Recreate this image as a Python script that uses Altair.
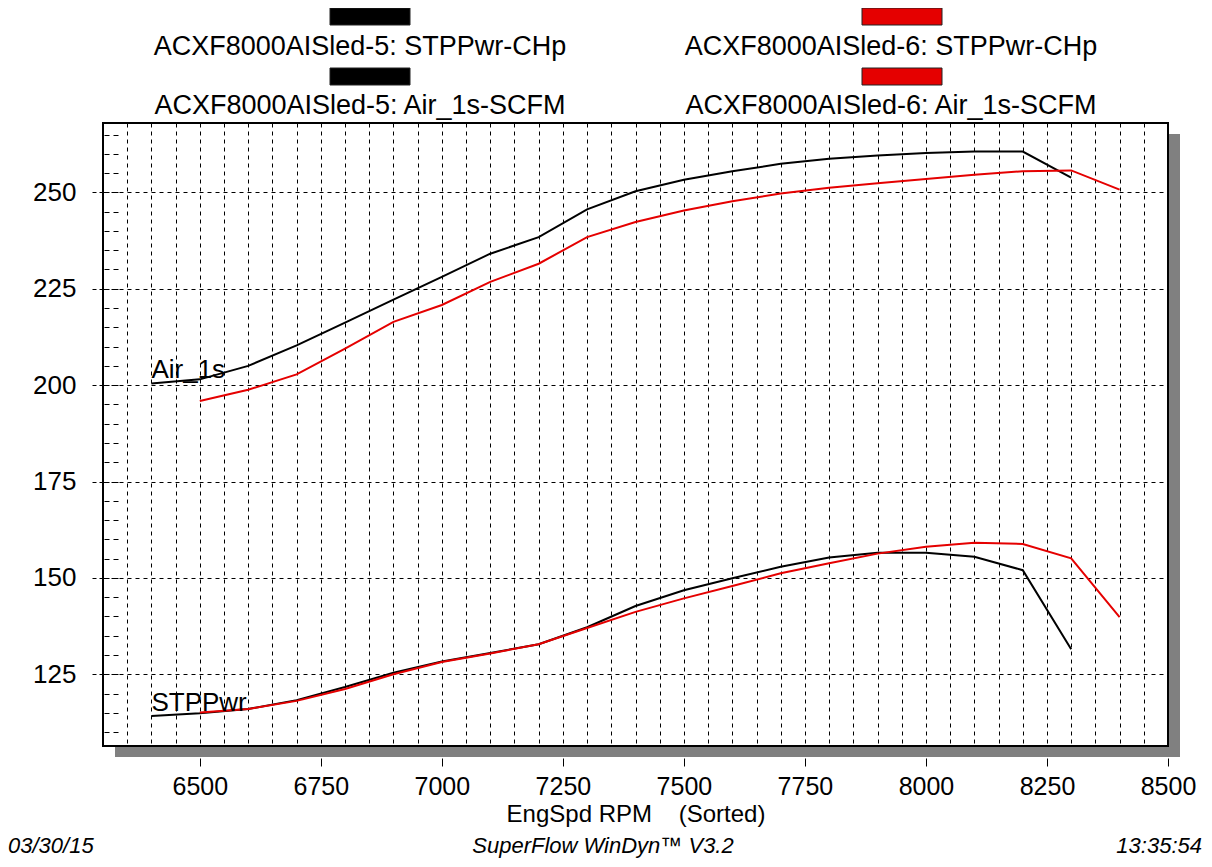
import altair as alt
import pandas as pd

# ---------------- data ----------------
rpm_sled5 = [6400, 6500, 6600, 6700, 6800, 6900, 7000, 7100, 7200, 7300,
             7400, 7500, 7600, 7700, 7800, 7900, 8000, 8100, 8200, 8300]
rpm_sled6 = [6500, 6600, 6700, 6800, 6900, 7000, 7100, 7200, 7300, 7400,
             7500, 7600, 7700, 7800, 7900, 8000, 8100, 8200, 8300, 8400]

stp_sled5 = [114.2, 114.9, 116.0, 118.3, 121.7, 125.4, 128.3, 130.5, 132.8, 137.2,
             142.7, 146.8, 149.9, 152.9, 155.3, 156.5, 156.5, 155.5, 152.0, 131.5]
stp_sled6 = [115.1, 116.0, 118.1, 121.2, 125.0, 128.2, 130.4, 132.8, 137.0, 141.2,
             144.7, 147.9, 151.2, 153.8, 156.3, 158.1, 159.1, 158.8, 155.1, 139.8]
air_sled5 = [200.4, 201.5, 205.0, 210.3, 216.2, 222.2, 228.1, 234.1, 238.4, 245.6,
             250.3, 253.3, 255.5, 257.4, 258.7, 259.6, 260.2, 260.6, 260.6, 253.8]
air_sled6 = [195.9, 198.8, 202.8, 209.5, 216.4, 220.8, 226.8, 231.5, 238.4, 242.3,
             245.3, 247.7, 249.7, 251.2, 252.4, 253.5, 254.6, 255.5, 255.7, 250.7]

runs = ["ACXF8000AISled-5", "ACXF8000AISled-6"]
run_colors = ["#000000", "#e50000"]
channels = ["STPPwr-CHp", "Air_1s-SCFM"]
line_labels = ["Air_1s", "STPPwr"]
line_label_rpm = [6400, 6400]
line_label_value = [201.8, 115.6]

x_label_values = [6500, 6750, 7000, 7250, 7500, 7750, 8000, 8250, 8500]
y_label_values = [125, 150, 175, 200, 225, 250]
x_grid_step = 50
y_minor_step = 5

x_title = "EngSpd RPM \u00a0\u00a0\u00a0(Sorted)"
footer_left = "03/30/15"
footer_center = "SuperFlow WinDyn\u2122 V3.2"
footer_right = "13:35:54"

# ---------------- table ----------------
rows = []
for rpm_list, vals, run, ch in [
    (rpm_sled5, stp_sled5, runs[0], channels[0]),
    (rpm_sled6, stp_sled6, runs[1], channels[0]),
    (rpm_sled5, air_sled5, runs[0], channels[1]),
    (rpm_sled6, air_sled6, runs[1], channels[1]),
]:
    for r, v in zip(rpm_list, vals):
        rows.append({"rpm": r, "value": v, "run": run, "channel": ch})
df = pd.DataFrame(rows)
labels_df = pd.DataFrame({"text": line_labels, "rpm": line_label_rpm, "value": line_label_value})
dummy = pd.DataFrame({"k": [0]})

# ---------------- layout ----------------
W, H = 1065, 623
PAD = {"left": 95, "top": 115, "right": 36, "bottom": 113}
FONT = "Liberation Sans"
FS = 26

x_scale = alt.Scale(domain=[6300, 8500], nice=False, zero=False)
y_scale = alt.Scale(domain=[106.4, 268], nice=False, zero=False)
color_scale = alt.Scale(domain=runs, range=run_colors)

x_grid_values = list(range(6300, 8501, x_grid_step))
y_minor_values = list(range(110, 268, y_minor_step))

# x grid only (every 50 rpm)
x_grid_axis = alt.Axis(
    values=x_grid_values, orient="bottom",
    grid=True, gridDash=[4, 4], gridColor="black", gridOpacity=1, gridWidth=1,
    domain=False, ticks=False, labels=False, title=None,
)
# x labelled axis (below the shadow)
x_label_axis = alt.Axis(
    values=x_label_values, orient="bottom", format="d", grid=False,
    domain=False, offset=12, tickSize=8, tickColor="black", tickWidth=1,
    labelFont=FONT, labelFontSize=25, labelColor="black", labelPadding=8,
    labelFlush=False, labelOverlap=False,
    title=x_title, titleFont=FONT, titleFontSize=24, titleFontWeight="normal",
    titleColor="black", titlePadding=3,
)
y_axis = alt.Axis(
    values=y_label_values, orient="left",
    grid=True, gridDash=[4, 4], gridColor="black", gridOpacity=1, gridWidth=1,
    domain=False, tickSize=11, tickDash=[4, 3], tickColor="black", tickWidth=1,
    labelFont=FONT, labelFontSize=FS, labelColor="black", labelPadding=16,
    title=None,
)
y_minor_axis = alt.Axis(
    values=y_minor_values, orient="left", offset=-15,
    grid=False, domain=False, labels=False, title=None,
    tickSize=15, tickDash=[5, 4], tickColor="black", tickWidth=1,
)

lines = alt.Chart(df).mark_line(strokeWidth=2).encode(
    x=alt.X("rpm:Q", scale=x_scale, axis=x_grid_axis),
    y=alt.Y("value:Q", scale=y_scale, axis=y_axis),
    color=alt.Color("run:N", scale=color_scale, legend=None),
    detail="channel:N",
)

minor = alt.Chart(df).mark_point(opacity=0).encode(
    x=alt.X("rpm:Q", scale=x_scale, axis=x_label_axis),
    y=alt.Y("value:Q", scale=y_scale, axis=y_minor_axis),
)

# shadow (L shape outside the plot frame)
shadow_r = alt.Chart(dummy).mark_rect(color="#808080").encode(
    x=alt.value(W + 1), x2=alt.value(W + 12), y=alt.value(11), y2=alt.value(H + 11))
shadow_b = alt.Chart(dummy).mark_rect(color="#808080").encode(
    x=alt.value(12), x2=alt.value(W + 12), y=alt.value(H + 1), y2=alt.value(H + 11))

# in-plot labels
line_lbls = alt.Chart(labels_df).mark_text(font=FONT, fontSize=FS, align="left",
                                           baseline="alphabetic", color="black").encode(
    x=alt.X("rpm:Q", scale=x_scale, axis=None),
    y=alt.Y("value:Q", scale=y_scale, axis=None),
    text="text:N")

# legend (swatch above label, two columns)
def page_x(px):
    return px - 103

def page_y(py):
    return py - 123

legend_layers = []
col_swatch_x = [(330, 410), (862, 942)]
col_text_x = [360, 891]
row_swatch_y = [(8, 25), (68, 85)]
row_text_y = [47, 106]
for ci, run in enumerate(runs):
    for ri, ch in enumerate(channels):
        sx0, sx1 = col_swatch_x[ci]
        sy0, sy1 = row_swatch_y[ri]
        legend_layers.append(
            alt.Chart(dummy).mark_rect(color=run_colors[ci], stroke="#222222", strokeWidth=1).encode(
                x=alt.value(page_x(sx0)), x2=alt.value(page_x(sx1)),
                y=alt.value(page_y(sy0)), y2=alt.value(page_y(sy1))))
        legend_layers.append(
            alt.Chart(dummy).mark_text(font=FONT, fontSize=27, align="center",
                                       baseline="middle", color="black").encode(
                x=alt.value(page_x(col_text_x[ci])), y=alt.value(page_y(row_text_y[ri])),
                text=alt.value(f"{run}: {ch}")))

# footer
footer = []
for txt, px, al in [(footer_left, 8, "left"), (footer_center, 603, "center"), (footer_right, 1202, "right")]:
    footer.append(
        alt.Chart(dummy).mark_text(font=FONT, fontSize=22, fontStyle="italic", align=al,
                                   baseline="middle", color="black").encode(
            x=alt.value(page_x(px)), y=alt.value(page_y(846)), text=alt.value(txt)))

chart = alt.layer(
    shadow_r, shadow_b, lines, minor, line_lbls, *legend_layers, *footer
).resolve_axis(x="independent", y="independent").properties(
    width=W, height=H, padding=PAD, autosize=alt.AutoSizeParams(type="none"),
    background="white",
).configure_view(stroke="black", strokeWidth=2)

chart.save("out.html", embed_options={"renderer": "svg", "actions": False})
